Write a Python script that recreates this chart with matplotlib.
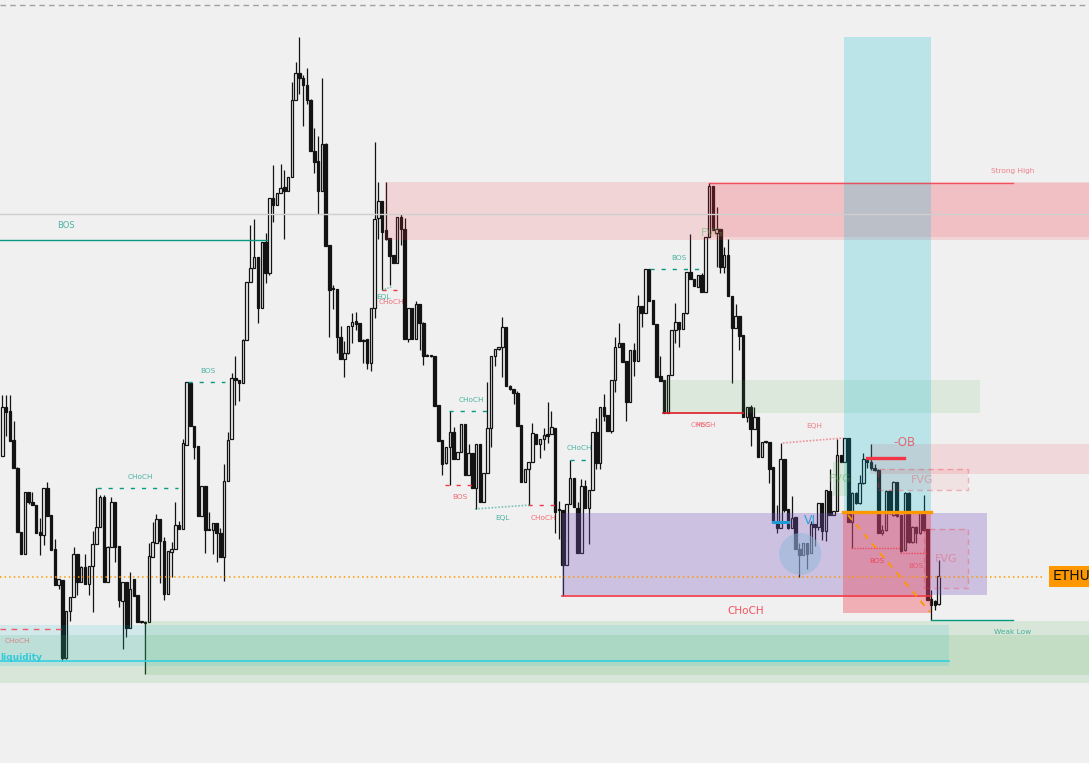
import matplotlib.pyplot as plt
from matplotlib.patches import Rectangle, Ellipse

# OHLC (price units, one bar per candle)
opens = [244, 293, 289, 260, 232, 168, 146, 208, 198, 195,
         168, 165, 212, 185, 151, 115, 120, 42, 89, 103,
         146, 118, 133, 116, 134, 156, 173, 203, 118, 153,
         198, 154, 99, 118, 72, 121, 105, 78, 78, 78,
         143, 157, 181, 159, 106, 148, 151, 175, 171, 255,
         317, 274, 254, 184, 214, 170, 170, 177, 167, 143,
         219, 261, 322, 320, 317, 360, 418, 432, 443, 392,
         458, 427, 502, 495, 507, 513, 509, 523, 600, 627,
         622, 615, 600, 549, 539, 509, 556, 455, 411, 411,
         363, 341, 347, 374, 379, 377, 360, 361, 337, 392,
         482, 499, 470, 462, 445, 437, 483, 471, 361, 392,
         361, 396, 377, 344, 344, 344, 295, 260, 237, 253,
         268, 241, 248, 276, 225, 247, 212, 256, 198, 227,
         272, 344, 351, 353, 373, 314, 311, 307, 275, 218,
         231, 238, 266, 256, 261, 266, 266, 272, 190, 190,
         135, 196, 222, 192, 147, 214, 192, 210, 268, 237,
         293, 285, 269, 320, 353, 357, 339, 298, 350, 339,
         394, 387, 431, 400, 376, 324, 320, 287, 325, 370,
         378, 371, 387, 428, 421, 413, 425, 408, 463, 514,
         467, 471, 433, 445, 404, 372, 384, 365, 283, 293,
         271, 283, 243, 258, 258, 233, 178, 172, 241, 191,
         172, 183, 151, 145, 157, 147, 176, 173, 197, 169,
         209, 185, 189, 245, 238, 262, 178, 207, 197, 217,
         241, 238, 232, 230, 167, 170, 209, 185, 218, 185,
         150, 207, 158, 173, 167, 187, 171, 101, 99, 96]
highs = [305, 305, 305, 279, 233, 168, 208, 208, 208, 195,
         182, 212, 218, 185, 161, 121, 120, 89, 103, 153,
         146, 134, 146, 134, 169, 212, 205, 205, 154, 203,
         198, 154, 118, 118, 128, 121, 105, 79, 79, 157,
         178, 186, 181, 163, 149, 158, 198, 179, 261, 318,
         317, 274, 254, 214, 214, 188, 177, 177, 172, 236,
         268, 327, 344, 320, 361, 418, 475, 481, 443, 458,
         467, 502, 535, 507, 536, 530, 523, 618, 638, 663,
         625, 632, 601, 572, 564, 622, 557, 455, 415, 411,
         374, 359, 374, 387, 388, 377, 361, 361, 392, 558,
         518, 499, 518, 462, 445, 483, 486, 482, 392, 392,
         399, 396, 378, 346, 345, 344, 295, 260, 253, 289,
         273, 248, 276, 276, 256, 247, 256, 256, 227, 318,
         344, 351, 353, 383, 373, 315, 311, 309, 275, 231,
         238, 277, 266, 261, 272, 298, 289, 272, 199, 190,
         196, 240, 222, 198, 221, 220, 210, 268, 282, 293,
         306, 285, 320, 363, 377, 357, 339, 350, 357, 405,
         394, 431, 431, 400, 376, 344, 320, 325, 370, 397,
         378, 387, 428, 466, 421, 425, 427, 463, 517, 514,
         493, 471, 453, 461, 404, 396, 384, 365, 293, 295,
         293, 283, 258, 258, 258, 233, 195, 257, 241, 191,
         204, 183, 157, 157, 157, 179, 176, 197, 197, 210,
         231, 189, 261, 245, 262, 262, 208, 208, 225, 247,
         242, 256, 236, 231, 175, 210, 210, 219, 218, 185,
         208, 208, 174, 174, 188, 205, 171, 110, 100, 140]
lows = [244, 264, 259, 232, 168, 146, 146, 196, 195, 167,
        145, 155, 184, 150, 115, 111, 39, 41, 79, 103,
        105, 118, 116, 105, 88, 156, 173, 118, 118, 153,
        138, 93, 51, 63, 72, 104, 78, 77, 26, 78,
        143, 157, 117, 100, 106, 123, 151, 171, 171, 255,
        274, 241, 184, 184, 147, 170, 146, 138, 143, 119,
        219, 261, 295, 299, 317, 360, 418, 432, 377, 392,
        417, 425, 478, 495, 507, 461, 509, 523, 600, 606,
        574, 596, 549, 527, 486, 509, 454, 363, 391, 347,
        341, 323, 346, 357, 370, 359, 337, 331, 329, 382,
        461, 410, 460, 415, 437, 437, 455, 361, 358, 361,
        361, 350, 335, 344, 343, 294, 259, 225, 236, 215,
        241, 241, 248, 225, 225, 212, 191, 198, 198, 227,
        253, 334, 350, 323, 314, 310, 296, 274, 218, 218,
        195, 238, 256, 242, 250, 257, 266, 167, 161, 104,
        135, 196, 193, 147, 147, 192, 156, 210, 231, 231,
        279, 269, 267, 308, 353, 338, 279, 298, 324, 339,
        373, 387, 399, 376, 323, 319, 287, 287, 325, 357,
        353, 371, 386, 421, 414, 413, 408, 408, 463, 470,
        433, 427, 427, 404, 317, 372, 350, 283, 278, 254,
        271, 243, 243, 257, 217, 178, 167, 172, 188, 171,
        172, 151, 123, 145, 131, 147, 154, 170, 160, 159,
        185, 185, 189, 238, 238, 178, 152, 196, 196, 216,
        232, 230, 229, 167, 165, 169, 186, 184, 183, 148,
        149, 157, 157, 157, 166, 169, 100, 80, 90, 95]
closes = [293, 288, 259, 232, 168, 146, 208, 198, 195, 167,
          165, 212, 184, 150, 115, 121, 42, 89, 103, 146,
          118, 133, 116, 134, 156, 173, 203, 118, 153, 198,
          153, 100, 118, 72, 111, 104, 78, 78, 77, 144,
          158, 181, 159, 106, 149, 151, 175, 171, 257, 318,
          274, 253, 184, 214, 170, 170, 177, 167, 143, 219,
          260, 322, 320, 317, 360, 418, 432, 443, 392, 458,
          427, 502, 495, 507, 512, 509, 523, 600, 627, 622,
          615, 600, 549, 538, 509, 556, 454, 410, 411, 363,
          341, 347, 374, 378, 376, 359, 359, 337, 392, 481,
          499, 468, 461, 444, 437, 483, 471, 361, 392, 361,
          396, 377, 344, 344, 344, 294, 259, 236, 253, 268,
          241, 248, 276, 225, 247, 212, 256, 198, 227, 272,
          344, 351, 353, 373, 314, 311, 307, 274, 218, 231,
          238, 267, 256, 261, 265, 264, 273, 188, 190, 135,
          196, 222, 193, 147, 214, 192, 210, 268, 237, 293,
          284, 269, 320, 353, 357, 338, 298, 350, 339, 394,
          387, 431, 399, 376, 323, 319, 287, 325, 370, 378,
          371, 387, 428, 421, 414, 425, 408, 463, 514, 470,
          471, 433, 445, 404, 372, 384, 364, 283, 293, 271,
          283, 243, 258, 258, 231, 178, 172, 241, 190, 172,
          182, 151, 145, 157, 146, 176, 173, 197, 169, 210,
          185, 189, 245, 238, 262, 178, 207, 197, 217, 241,
          238, 232, 230, 167, 170, 209, 187, 218, 184, 149,
          207, 158, 173, 167, 187, 170, 100, 95, 95, 124]

TEAL = "#089981"
RED = "#f23645"
BG = "#f0f0f0"

fig = plt.figure(figsize=(10.89, 7.63), dpi=100)
fig.patch.set_facecolor(BG)
ax = fig.add_axes([0, 0, 1, 1])
ax.set_facecolor(BG)
ax.set_xlim(-0.61, 289.0)
ax.set_ylim(-63, 700)
ax.axis("off")

# candles
x = list(range(len(opens)))
ax.vlines(x, lows, highs, color="#131313", linewidth=0.9, zorder=1)
for i in x:
    o, c = opens[i], closes[i]
    lo, hi = min(o, c), max(o, c)
    h = max(hi - lo, 0.8)
    up = c > o
    ax.add_patch(Rectangle((i - 0.33, lo), 0.66, h,
                           facecolor=BG if up else "#131313",
                           edgecolor="#131313", linewidth=0.9, zorder=2))


def zone(x0, x1, y0, y1, color, alpha, z=3, **kw):
    ax.add_patch(Rectangle((x0, y0), x1 - x0, y1 - y0, facecolor=color,
                           alpha=alpha, edgecolor="none", zorder=z, **kw))


def label(xx, yy, s, color, size=5.3, alpha=0.7, **kw):
    ax.text(xx, yy, s, color=color, fontsize=size, alpha=alpha,
            ha=kw.pop("ha", "center"), va=kw.pop("va", "center"), zorder=8, **kw)


# reference lines
ax.axhline(695, color="#a0a0a0", linewidth=1, linestyle=(0, (4, 3)), zorder=4)
ax.axhline(486, color="#cfcfcf", linewidth=1, zorder=4)

# supply zones
zone(101.8, 289, 460, 518, RED, 0.15)
zone(188.0, 289, 463, 517, RED, 0.12)
ax.plot([188, 268.8], [517, 517], color=RED, linewidth=1, alpha=0.8, zorder=5)
label(268.8, 529, "Strong High", RED, alpha=0.6)

# green order block
zone(175.7, 260.0, 287, 320, "#4caf50", 0.12)
ax.plot([175.7, 197], [287, 287], color="#e01b24", linewidth=1.2, zorder=5)

# purple zone
zone(148.9, 261.9, 105, 187, "#7e57c2", 0.3)
ax.plot([148.9, 247], [104, 104], color=RED, linewidth=1.2, zorder=5)
label(197.8, 89, "CHoCH", RED, size=7.5, alpha=0.85)

# -OB zone
zone(230.8, 289, 226, 256, RED, 0.13)
ax.plot([230, 239.8], [242, 242], color=RED, linewidth=2.4, zorder=6)
label(239.8, 257, "-OB", RED, size=8.5, alpha=0.7)

# position tool
zone(223.9, 247.0, 188, 663, "#00bcd4", 0.22)
zone(223.6, 247.0, 87, 188, RED, 0.35)
ax.plot([223.6, 247.0], [188, 188], color="#ff9800", linewidth=2.4, zorder=6)
ax.plot([224.9, 246.7], [185, 88], color="#ff9800", linewidth=1.5,
        linestyle=(0, (3, 3)), alpha=0.9, zorder=6)

# FVG boxes
for x0, x1, y0, y1, tx, ty in [(232.9, 256.8, 210, 231, 244.6, 220),
                               (245.1, 256.8, 112, 171, 251.0, 141)]:
    ax.add_patch(Rectangle((x0, y0), x1 - x0, y1 - y0, facecolor=RED, alpha=0.08,
                           zorder=6))
    ax.add_patch(Rectangle((x0, y0), x1 - x0, y1 - y0, facecolor="none",
                           edgecolor=RED, alpha=0.35, linewidth=1,
                           linestyle=(0, (4, 3)), zorder=6))
    label(tx, ty, "FVG", RED, size=8, alpha=0.35)
zone(220.9, 224.9, 204, 238, "#4caf50", 0.15, z=6)
label(222.8, 221, "FVG", "#4caf50", size=8, alpha=0.45)
label(188.8, 467, "FVG", "#4caf50", size=8, alpha=0.45)

# volume imbalance
ax.plot([205, 209], [178, 178], color="#1e9bd7", linewidth=2.2, zorder=6)
label(214.8, 179, "VI", "#1e9bd7", size=9, alpha=0.9)
ax.add_patch(Ellipse((212.2, 146), 11.2, 42, facecolor="#8fb8d8", alpha=0.5,
                     edgecolor="none", zorder=5))

# bottom liquidity / demand zones
zone(-0.61, 289, 17, 65, "#4caf50", 0.15)
zone(37.7, 289, 25, 79, "#4caf50", 0.15)
zone(-0.61, 251.8, 34, 75, "#00bcd4", 0.12)
ax.plot([-0.61, 251.8], [39, 39], color="#35d0e0", linewidth=1.2, zorder=5)
label(-0.6, 43, "liquidity", "#26c6da", size=6.5, alpha=0.9, ha="left",
      fontweight="bold")
ax.plot([-0.61, 15.9], [71, 71], color=RED, linewidth=1, linestyle=(0, (4, 4)),
        alpha=0.8, zorder=5)
label(4, 59, "CHoCH", RED, alpha=0.55)
ax.plot([247, 268.8], [80, 80], color=TEAL, linewidth=1, zorder=5)
label(268.8, 68, "Weak Low", TEAL, alpha=0.7)

# current price
ax.plot([-0.61, 277.3], [123, 123], color="#ff9800", linewidth=1.1,
        linestyle=(0, (1, 2)), zorder=5)
ax.add_patch(Rectangle((278.4, 113), 11, 21, facecolor="#ff9800", zorder=7))
ax.text(279.4, 123.5, "ETHUSD", fontsize=10, color="#111111", va="center",
        ha="left", zorder=8)

# market structure lines and labels
ax.plot([-0.61, 70.4], [460, 460], color=TEAL, linewidth=1, zorder=5)
label(16.9, 474, "BOS", TEAL, size=6)
dash = (0, (3, 5))
structure = [
    (25.2, 46.7, 212, TEAL, "CHoCH", 36.6, 223),
    (49.4, 59.2, 318, TEAL, "BOS", 54.7, 329),
    (118.8, 129.2, 289, TEAL, "CHoCH", 124.7, 300),
    (117.7, 124.9, 215, RED, "BOS", 121.7, 203),
    (139.8, 147.0, 195, RED, "CHoCH", 143.8, 182),
    (151.0, 156.3, 240, TEAL, "CHoCH", 153.4, 252),
    (172.3, 186.4, 431, TEAL, "BOS", 180.0, 442),
    (101.0, 105.0, 410, RED, "CHoCH", 103.6, 398),
]
for x0, x1, yy, col, txt, tx, ty in structure:
    ax.plot([x0, x1], [yy, yy], color=col, linewidth=1, linestyle=dash, zorder=5)
    label(tx, ty, txt, col)
label(101.5, 403, "EQL", TEAL)
ax.plot([101, 103.5], [410, 413], color=TEAL, linewidth=1, linestyle=(0, (1, 1)),
        alpha=0.6, zorder=5)
ax.plot([125.7, 140.3], [191, 195], color=TEAL, linewidth=1.2,
        linestyle=(0, (1, 1)), alpha=0.5, zorder=5)
label(132.9, 182, "EQL", TEAL)
ax.plot([207.6, 223.6], [257, 262], color=RED, linewidth=1.2,
        linestyle=(0, (1, 1)), alpha=0.5, zorder=5)
label(215.9, 274, "EQH", RED, alpha=0.6)
# the indicator draws both tags at the same spot
label(186.4, 275, "CHoCH", RED, alpha=0.6)
label(186.4, 275, "MSS", RED, alpha=0.6)
ax.plot([225.7, 238.8], [152, 152], color=RED, linewidth=1,
        linestyle=(0, (1, 1)), alpha=0.8, zorder=6)
label(232.6, 139, "BOS", RED, alpha=0.8)
ax.plot([238.8, 246.0], [147, 147], color=RED, linewidth=1,
        linestyle=(0, (1, 1)), alpha=0.8, zorder=6)
label(243.0, 134, "BOS", RED, alpha=0.6)

plt.savefig("out.png", dpi=100, facecolor=BG)
